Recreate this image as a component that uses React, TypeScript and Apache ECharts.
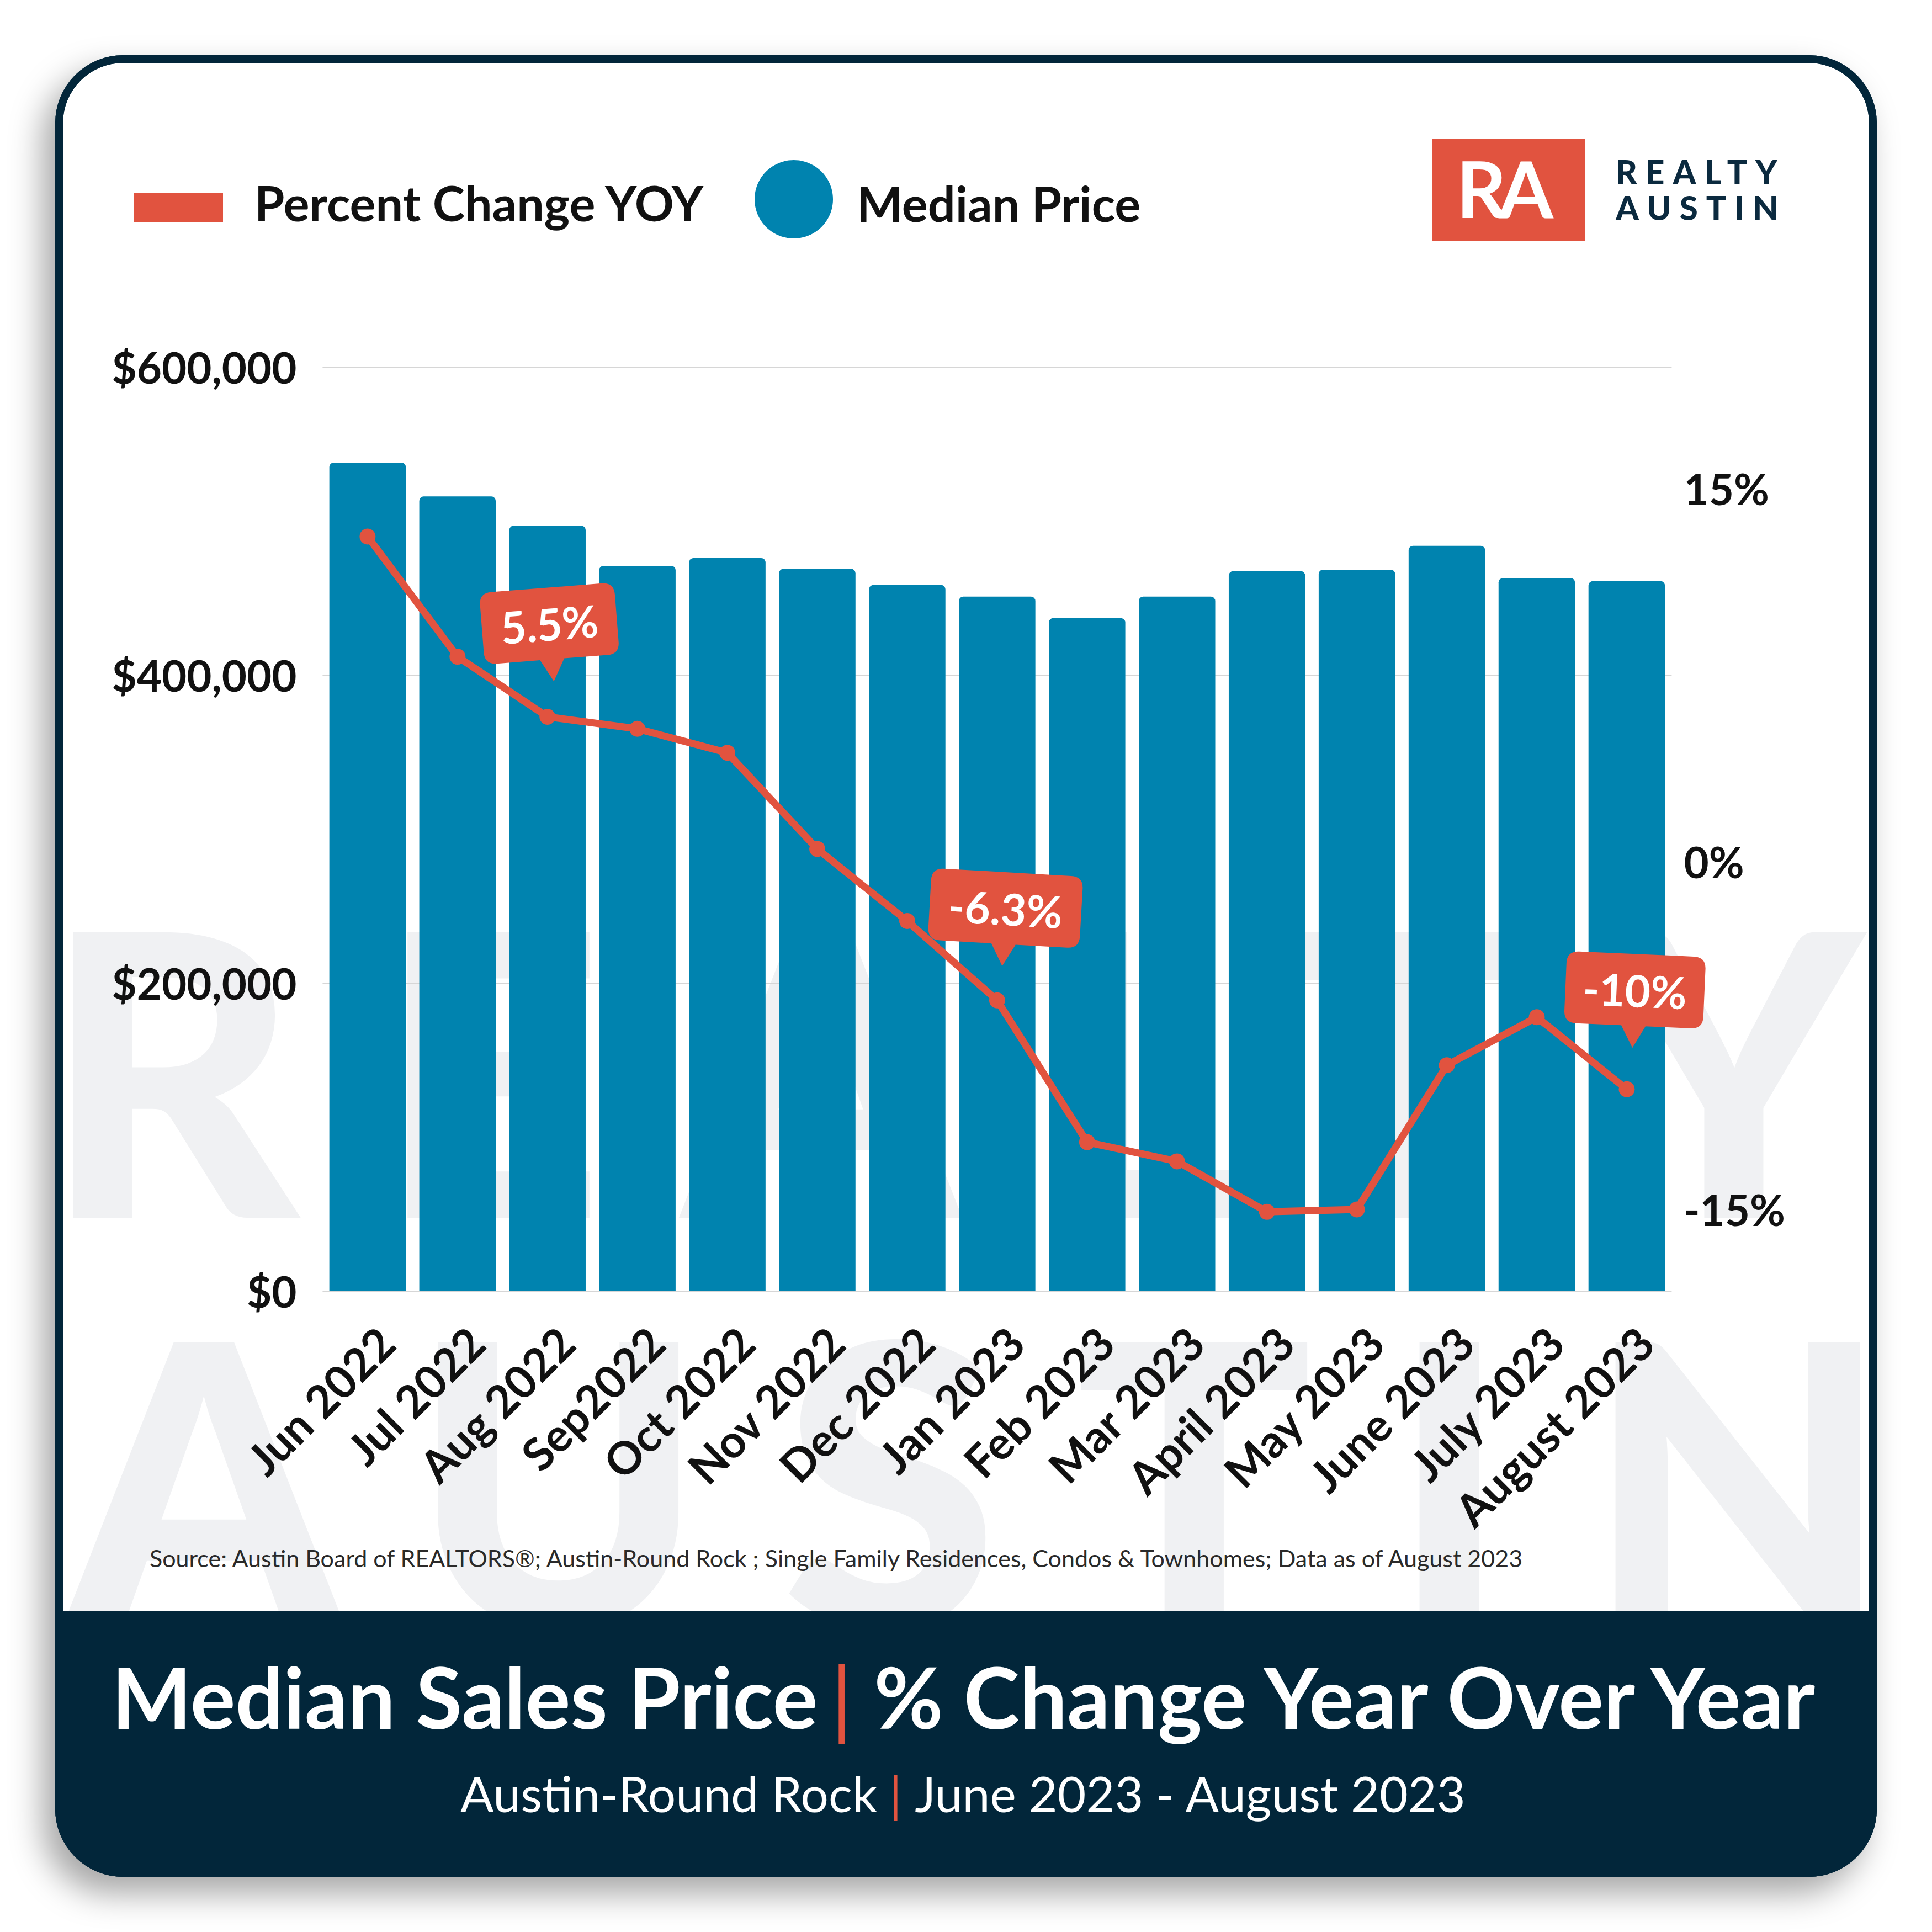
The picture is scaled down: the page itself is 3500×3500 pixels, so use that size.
import React, { useEffect, useRef } from 'react';
import * as echarts from 'echarts';

// ---------- data ----------
const categories = [
  'Jun 2022', 'Jul 2022', 'Aug 2022', 'Sep2022', 'Oct 2022', 'Nov 2022', 'Dec 2022',
  'Jan 2023', 'Feb 2023', 'Mar 2023', 'April 2023', 'May 2023', 'June 2023', 'July 2023', 'August 2023',
];
const medianPrice = [
  538000, 516000, 497000, 471000, 476000, 469000, 458500,
  451000, 437000, 451000, 467500, 468500, 484000, 463000, 461000,
];
const pctChange = [13.0, 8.0, 5.5, 5.0, 4.0, 0.0, -3.0, -6.3, -12.2, -13.0, -15.1, -15.0, -9.0, -7.0, -10.0];
const calloutMonths = ['Aug 2022', 'Jan 2023', 'August 2023'];
const priceTicks = [0, 200000, 400000, 600000];
const pctTicks = [-15, 0, 15];
const legendNames = ['Percent Change YOY', 'Median Price'];
const titleParts = ['Median Sales Price', '% Change Year Over Year'];
const subtitleParts = ['Austin-Round Rock', 'June 2023 - August 2023'];
const sourceNote =
  'Source: Austin Board of REALTORS®; Austin-Round Rock ; Single Family Residences, Condos & Townhomes; Data as of August 2023';
const brandWords = ['REALTY', 'AUSTIN'];
const brandMark = 'RA';

// ---------- styles ----------
const ORANGE = '#E1533F';
const BLUE = '#0083AF';
const NAVY = '#02263A';
const INK = '#111111';
const WATERMARK = '#F0F1F3';
const FONT = 'Lato';

const calloutStyles = [
  { w: 245, rot: 4.5, dx: 5, gap: 64 },
  { w: 275, rot: -3.3, dx: 14, gap: 62 },
  { w: 252, rot: -2.5, dx: 14, gap: 75 },
];
const BODY_H = 130;
const TAIL_H = 40;

function calloutPath(w: number) {
  const h = BODY_H, t = TAIL_H, r = 22, tw = 22, cx = w / 2;
  return `path://M${r},0 L${w - r},0 Q${w},0 ${w},${r} L${w},${h - r} Q${w},${h} ${w - r},${h} L${cx + tw},${h} L${cx},${h + t} L${cx - tw},${h} L${r},${h} Q0,${h} 0,${h - r} L0,${r} Q0,0 ${r},0 Z`;
}

// extra spacing between letters (applied as per-glyph dx on the rendered SVG text)
const letterSpacingRules = [
  { text: 'REALTY', size: 713, ls: 143 },
  { text: 'AUSTIN', size: 713, ls: 139 },
  { text: 'REALTY', size: 60, ls: 15 },
  { text: 'AUSTIN', size: 60, ls: 15 },
  { text: 'RA', size: 142, ls: -14 },
];

function applyLetterSpacing(root: HTMLElement) {
  root.querySelectorAll('text').forEach((t) => {
    const fs = parseFloat(getComputedStyle(t).fontSize);
    const txt = (t.textContent || '').trim();
    const rule = letterSpacingRules.find((r) => r.text === txt && Math.abs(r.size - fs) < 1.5);
    if (rule) {
      const dx = Array.from(txt).map((_, i) => (i === 0 ? 0 : rule.ls)).join(' ');
      t.setAttribute('dx', dx);
    }
  });
}

function fmtMoney(v: number) {
  return '$' + v.toLocaleString('en-US');
}

function buildOption(): any {
  const markData = calloutMonths.map((m, i) => {
    const idx = categories.indexOf(m);
    const s = calloutStyles[i];
    return {
      coord: [idx, pctChange[idx]],
      value: pctChange[idx],
      symbol: calloutPath(s.w),
      symbolSize: [s.w, BODY_H + TAIL_H],
      symbolRotate: s.rot,
      symbolOffset: [s.dx, -((BODY_H + TAIL_H) / 2 + s.gap)],
      label: { rotate: s.rot },
    };
  });

  const axisLabelBase = { fontFamily: FONT, fontWeight: 'bold', fontSize: 78, color: INK };
  const legendText = { fontFamily: FONT, fontWeight: 'bold', fontSize: 88, color: INK, lineHeight: 100 };

  return {
    animation: false,
    backgroundColor: '#ffffff',
    grid: { left: 584.4, right: 471.6, top: 665, bottom: 1161, containLabel: false },
    legend: [
      {
        data: [legendNames[0]],
        left: 242, top: 323, padding: 0, itemGap: 0,
        itemWidth: 162, itemHeight: 53, icon: 'rect',
        itemStyle: { borderWidth: 0 },
        formatter: '{t|{name}}',
        textStyle: { ...legendText, rich: { t: { ...legendText, padding: [0, 0, 18, 52] } } },
        selectedMode: false,
      },
      {
        data: [legendNames[1]],
        left: 1367, top: 290, padding: 0, itemGap: 0,
        itemWidth: 142, itemHeight: 142, icon: 'circle',
        itemStyle: { borderWidth: 0 },
        formatter: '{t|{name}}',
        textStyle: { ...legendText, rich: { t: { ...legendText, padding: [14, 0, 0, 38] } } },
        selectedMode: false,
      },
    ],
    xAxis: {
      type: 'category',
      data: categories,
      axisTick: { show: false },
      axisLine: { show: false },
      axisLabel: {
        interval: 0, rotate: 45, margin: 112, padding: [0, -47, 0, 0],
        fontFamily: FONT, fontWeight: 'bold', fontSize: 82, color: INK,
      },
    },
    yAxis: [
      {
        type: 'value', min: priceTicks[0], max: priceTicks[priceTicks.length - 1], interval: 200000,
        axisLine: { show: false }, axisTick: { show: false },
        splitLine: { lineStyle: { color: '#D6D6D6', width: 3 } },
        axisLabel: { ...axisLabelBase, margin: 47, formatter: (v: number) => fmtMoney(v) },
      },
      {
        type: 'value', position: 'right', min: -18.4, max: 20.05,
        axisLine: { show: false }, axisTick: { show: false }, splitLine: { show: false },
        axisLabel: {
          ...axisLabelBase, margin: 22, customValues: pctTicks,
          formatter: (v: number) => (v === 0 ? `{z|${v}%}` : `${v}%`),
          rich: { z: { ...axisLabelBase, padding: [46, 0, 0, 0] } },
        },
      },
    ],
    series: [
      {
        name: legendNames[1], type: 'bar', data: medianPrice, yAxisIndex: 0,
        barCategoryGap: '15%',
        itemStyle: { color: BLUE, borderRadius: [8, 8, 0, 0] },
      },
      {
        name: legendNames[0], type: 'line', data: pctChange, yAxisIndex: 1,
        symbol: 'circle', symbolSize: 29, color: ORANGE,
        itemStyle: { color: ORANGE }, lineStyle: { color: ORANGE, width: 13 },
        z: 5,
        markPoint: {
          itemStyle: { color: ORANGE },
          label: {
            show: true, position: 'inside', offset: [0, -TAIL_H / 2], color: '#ffffff',
            fontFamily: FONT, fontWeight: 'bold', fontSize: 80,
            formatter: (p: any) => `${p.value}%`,
          },
          data: markData,
        },
      },
    ],
    graphic: [
      {
        type: 'rect', z: -20, silent: true,
        shape: { x: 100, y: 100, width: 3300, height: 3300, r: 123 },
        style: { fill: NAVY, shadowBlur: 60, shadowColor: 'rgba(0,0,0,0.35)', shadowOffsetX: -22, shadowOffsetY: 30 },
      },
      {
        type: 'rect', z: -19, silent: true,
        shape: { x: 114, y: 114, width: 3272, height: 2804, r: [109, 109, 0, 0] },
        style: { fill: '#ffffff' },
      },
      {
        type: 'text', z: -18, silent: true, x: 78, y: 1930,
        style: { text: brandWords[0], fill: WATERMARK, fontFamily: FONT, fontWeight: 900, fontSize: 713, align: 'left', verticalAlign: 'middle' },
      },
      {
        type: 'text', z: -18, silent: true, x: 119, y: 2673,
        style: { text: brandWords[1], fill: WATERMARK, fontFamily: FONT, fontWeight: 900, fontSize: 713, align: 'left', verticalAlign: 'middle' },
      },
      {
        type: 'rect', z: 39, silent: true,
        shape: { x: 107, y: 107, width: 3286, height: 3286, r: 116 },
        style: { fill: 'none', stroke: NAVY, lineWidth: 14 },
      },
      {
        type: 'rect', z: 40, silent: true,
        shape: { x: 100, y: 2918, width: 3300, height: 482, r: [0, 0, 123, 123] },
        style: { fill: NAVY },
      },
      // logo
      {
        type: 'rect', z: 10, silent: true,
        shape: { x: 2595, y: 251, width: 277, height: 186 },
        style: { fill: ORANGE },
      },
      {
        type: 'text', z: 11, silent: true, x: 2726, y: 340,
        style: { text: brandMark, fill: '#ffffff', fontFamily: FONT, fontWeight: 'bold', fontSize: 142, align: 'center', verticalAlign: 'middle' },
      },
      {
        type: 'text', z: 11, silent: true, x: 2927, y: 311,
        style: { text: brandWords[0], fill: '#0B2A3F', fontFamily: FONT, fontWeight: 900, fontSize: 60, align: 'left', verticalAlign: 'middle' },
      },
      {
        type: 'text', z: 11, silent: true, x: 2927, y: 376,
        style: { text: brandWords[1], fill: '#0B2A3F', fontFamily: FONT, fontWeight: 900, fontSize: 60, align: 'left', verticalAlign: 'middle' },
      },
      // source
      {
        type: 'text', z: 11, silent: true, x: 271, y: 2822,
        style: { text: sourceNote, fill: '#2A2A2A', fontFamily: FONT, fontSize: 43, align: 'left', verticalAlign: 'middle' },
      },
      // title
      {
        type: 'text', z: 41, silent: true, x: 1750, y: 3073,
        style: {
          text: `{a|${titleParts[0]}}{b||}{a|${titleParts[1]}}`,
          align: 'center', verticalAlign: 'middle',
          rich: {
            a: { fill: '#ffffff', fontFamily: FONT, fontWeight: 'bold', fontSize: 153 },
            b: { fill: ORANGE, fontFamily: FONT, fontWeight: 'normal', fontSize: 153, padding: [0, 30, 0, 24] },
          },
        },
      },
      {
        type: 'text', z: 41, silent: true, x: 1745, y: 3248,
        style: {
          text: `{a|${subtitleParts[0]}}{b||}{a|${subtitleParts[1]}}`,
          align: 'center', verticalAlign: 'middle',
          rich: {
            a: { fill: '#ffffff', fontFamily: FONT, fontWeight: 'normal', fontSize: 89.5 },
            b: { fill: ORANGE, fontFamily: FONT, fontWeight: 'normal', fontSize: 89.5, padding: [0, 22, 0, 22] },
          },
        },
      },
    ],
  };
}

export default function App() {
  const ref = useRef<HTMLDivElement>(null);
  useEffect(() => {
    document.body.style.margin = '0';
    const el = ref.current!;
    const chart = echarts.init(el, null, { renderer: 'svg' });
    chart.setOption(buildOption());
    applyLetterSpacing(el);
    const raf = requestAnimationFrame(() => applyLetterSpacing(el));
    const tm = setTimeout(() => applyLetterSpacing(el), 60);
    return () => {
      cancelAnimationFrame(raf);
      clearTimeout(tm);
      chart.dispose();
    };
  }, []);
  return <div ref={ref} style={{ width: 3500, height: 3500 }} />;
}
